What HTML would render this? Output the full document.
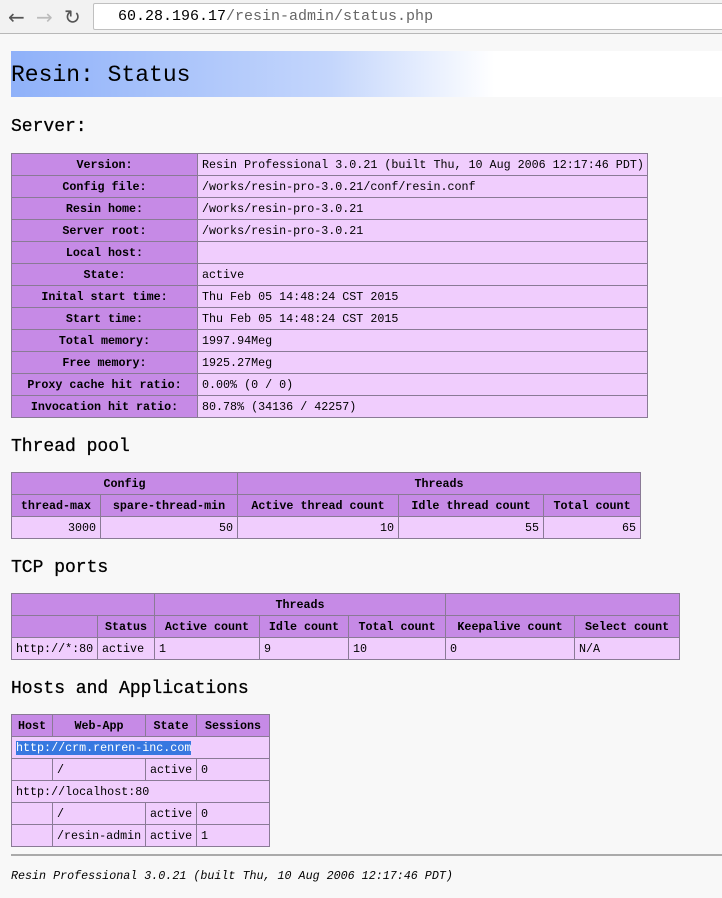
<!DOCTYPE html>
<html><head><meta charset="utf-8"><style>
*{margin:0;padding:0;box-sizing:border-box}
body{width:722px;height:898px;background:#f8f8f8;font-family:"Liberation Mono",monospace;font-size:11.7px;color:#000;position:relative;overflow:hidden}
.chrome{position:absolute;left:0;top:0;width:722px;height:34px;background:#f2f2f2;border-bottom:1px solid #b8b8b8}
.addr{position:absolute;left:93px;top:3px;width:640px;height:27px;background:#fff;border:1px solid #c0c0c0;border-radius:2px;font-size:15px;line-height:25px;padding-left:24px;color:#000}
.addr span{color:#666}
.nav{position:absolute;top:5px;font-size:20px;color:#555;font-family:"DejaVu Sans",sans-serif}
.banner{position:absolute;left:11px;top:51px;width:711px;height:46px;background:linear-gradient(to right,#8fb1f9 0%,#c4d6fc 45%,#fff 68%);font-size:23px;line-height:48px;padding-left:0}
h2{position:absolute;left:11px;font-size:18px;font-weight:normal;-webkit-text-stroke:0.3px #000}
table{position:absolute;border-collapse:collapse;table-layout:fixed}
td,th{border:1px solid #8a7a96;height:22px;padding:0 4px;white-space:nowrap;overflow:hidden;font-size:11.7px}
th{background:#c68ae6;font-weight:bold;text-align:center}
td{background:#f0cdfd;text-align:left}
td.r{text-align:right}
td.h{background:#c68ae6;font-weight:bold;text-align:center}
hr{position:absolute;left:11px;top:854px;width:711px;border:0;border-top:2px solid #aaa}
.foot{position:absolute;left:11px;top:869px;font-style:italic;font-size:11.7px}
.sel{background:#3778e0;color:#fff}
</style></head><body>
<div class="chrome">
<div class="nav" style="left:8px">&#8592;</div>
<div class="nav" style="left:36px;color:#bbb">&#8594;</div>
<div class="nav" style="left:64px">&#8635;</div>
<div class="addr">60.28.196.17<span>/resin-admin/status.php</span></div>
</div>
<div class="banner">Resin: Status</div>
<h2 style="top:117px">Server:</h2>
<table style="left:11px;top:153px;width:636px">
<col style="width:186px"><col style="width:450px">
<tr><td class="h">Version:</td><td>Resin Professional 3.0.21 (built Thu, 10 Aug 2006 12:17:46 PDT)</td></tr>
<tr><td class="h">Config file:</td><td>/works/resin-pro-3.0.21/conf/resin.conf</td></tr>
<tr><td class="h">Resin home:</td><td>/works/resin-pro-3.0.21</td></tr>
<tr><td class="h">Server root:</td><td>/works/resin-pro-3.0.21</td></tr>
<tr><td class="h">Local host:</td><td></td></tr>
<tr><td class="h">State:</td><td>active</td></tr>
<tr><td class="h">Inital start time:</td><td>Thu Feb 05 14:48:24 CST 2015</td></tr>
<tr><td class="h">Start time:</td><td>Thu Feb 05 14:48:24 CST 2015</td></tr>
<tr><td class="h">Total memory:</td><td>1997.94Meg</td></tr>
<tr><td class="h">Free memory:</td><td>1925.27Meg</td></tr>
<tr><td class="h">Proxy cache hit ratio:</td><td>0.00% (0 / 0)</td></tr>
<tr><td class="h">Invocation hit ratio:</td><td>80.78% (34136 / 42257)</td></tr>
</table>
<h2 style="top:437px">Thread pool</h2>
<table style="left:11px;top:472px;width:629px">
<col style="width:89px"><col style="width:137px"><col style="width:161px"><col style="width:145px"><col style="width:97px">
<tr><th colspan="2">Config</th><th colspan="3">Threads</th></tr>
<tr><th>thread-max</th><th>spare-thread-min</th><th>Active thread count</th><th>Idle thread count</th><th>Total count</th></tr>
<tr><td class="r">3000</td><td class="r">50</td><td class="r">10</td><td class="r">55</td><td class="r">65</td></tr>
</table>
<h2 style="top:558px">TCP ports</h2>
<table style="left:11px;top:593px;width:668px">
<col style="width:86px"><col style="width:57px"><col style="width:105px"><col style="width:89px"><col style="width:97px"><col style="width:129px"><col style="width:105px">
<tr><th colspan="2"></th><th colspan="3">Threads</th><th colspan="2"></th></tr>
<tr><th></th><th>Status</th><th>Active count</th><th>Idle count</th><th>Total count</th><th>Keepalive count</th><th>Select count</th></tr>
<tr><td>http://*:80</td><td>active</td><td>1</td><td>9</td><td>10</td><td>0</td><td>N/A</td></tr>
</table>
<h2 style="top:679px">Hosts and Applications</h2>
<table style="left:11px;top:714px;width:258px">
<col style="width:41px"><col style="width:93px"><col style="width:51px"><col style="width:73px">
<tr><th>Host</th><th>Web-App</th><th>State</th><th>Sessions</th></tr>
<tr><td colspan="4"><span class="sel">http://crm.renren-inc.com</span></td></tr>
<tr><td></td><td>/</td><td>active</td><td>0</td></tr>
<tr><td colspan="4">http://localhost:80</td></tr>
<tr><td></td><td>/</td><td>active</td><td>0</td></tr>
<tr><td></td><td>/resin-admin</td><td>active</td><td>1</td></tr>
</table>
<hr>
<div class="foot">Resin Professional 3.0.21 (built Thu, 10 Aug 2006 12:17:46 PDT)</div>
</body></html>
